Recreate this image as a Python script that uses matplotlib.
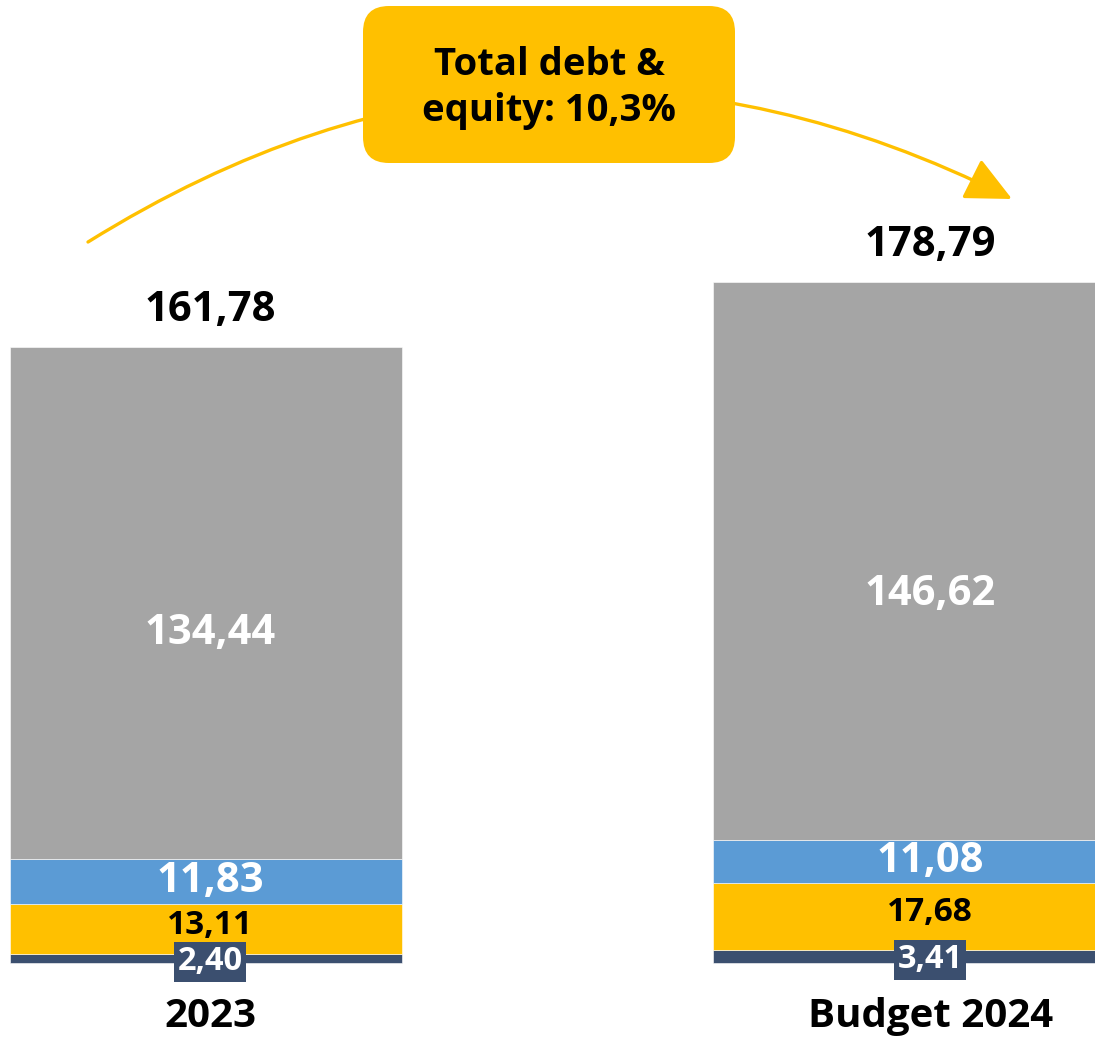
import matplotlib.pyplot as plt
from matplotlib.patches import FancyBboxPatch, FancyArrowPatch

plt.rcParams['font.family'] = ['Open Sans', 'DejaVu Sans']

categories = ['2023', 'Budget 2024']
navy_vals = [2.40, 3.41]
yellow_vals = [13.11, 17.68]
blue_vals = [11.83, 11.08]
gray_vals = [134.44, 146.62]
totals = [161.78, 178.79]
title_text = 'Total debt &\nequity: 10,3%'

NAVY = '#3B4F6F'
YELLOW = '#FFC000'
BLUE = '#5B9BD5'
GRAY = '#A5A5A5'

W, H = 1095, 1040
fig = plt.figure(figsize=(W / 100, H / 100), dpi=100)
ax = fig.add_axes([0, 0, 1, 1])

x = [0, 1.0]
widths = [0.544, 0.592]
ax.set_xlim(-0.286, 1.235)
ax.set_ylim(-20.2, 252.8)
ax.axis('off')

fmt = lambda v: f'{v:.2f}'.replace('.', ',')

bottom = [0.0, 0.0]
for vals, color in [(navy_vals, NAVY), (yellow_vals, YELLOW),
                    (blue_vals, BLUE), (gray_vals, GRAY)]:
    ax.bar(x, vals, width=widths, bottom=bottom, color=color,
           edgecolor='white', linewidth=0.4)
    bottom = [b + v for b, v in zip(bottom, vals)]

for i in range(2):
    lx = x[i] + 0.006
    b0 = 0.0
    # navy segment label sits in its own box
    ax.text(lx, b0 + navy_vals[i] / 2 - 0.9, fmt(navy_vals[i]), ha='center', va='center',
            color='white', fontsize=23.5, fontweight='bold',
            bbox=dict(boxstyle='square,pad=0.1', fc=NAVY, ec='none'))
    b0 += navy_vals[i]
    ax.text(lx, b0 + yellow_vals[i] / 2 + 1.0, fmt(yellow_vals[i]), ha='center', va='center',
            color='black', fontsize=24, fontweight='bold')
    b0 += yellow_vals[i]
    ax.text(lx, b0 + blue_vals[i] / 2, fmt(blue_vals[i]), ha='center', va='center',
            color='white', fontsize=30, fontweight='bold')
    b0 += blue_vals[i]
    ax.text(lx, b0 + gray_vals[i] * 0.44, fmt(gray_vals[i]), ha='center', va='center',
            color='white', fontsize=30, fontweight='bold')
    ax.annotate(fmt(totals[i]), (lx, totals[i]), xytext=(0, 16),
                textcoords='offset pixels', ha='center', va='bottom',
                fontsize=30, fontweight='bold', color='black')
    ax.text(lx, -14, categories[i], ha='center', va='center',
            fontsize=29, fontweight='bold', color='black')

# overlay in pixel units for the arrow and the callout box
ov = fig.add_axes([0, 0, 1, 1])
ov.set_xlim(0, W)
ov.set_ylim(H, 0)
ov.axis('off')

arrow = FancyArrowPatch((88, 242), (1012, 199), connectionstyle='arc3,rad=-0.28',
                        arrowstyle='-|>,head_length=1.3,head_width=0.62',
                        mutation_scale=22, color=YELLOW, linewidth=2.4,
                        shrinkA=0, shrinkB=0, zorder=2)
ov.add_patch(arrow)

box = FancyBboxPatch((363, 6), 372, 157, boxstyle='round,pad=0,rounding_size=26',
                     fc=YELLOW, ec='none', zorder=3)
ov.add_patch(box)
ov.text(549, 88, title_text, ha='center', va='center', fontsize=27.5,
        fontweight='bold', color='black', linespacing=1.3, zorder=4)

fig.savefig('out.png', dpi=100)
